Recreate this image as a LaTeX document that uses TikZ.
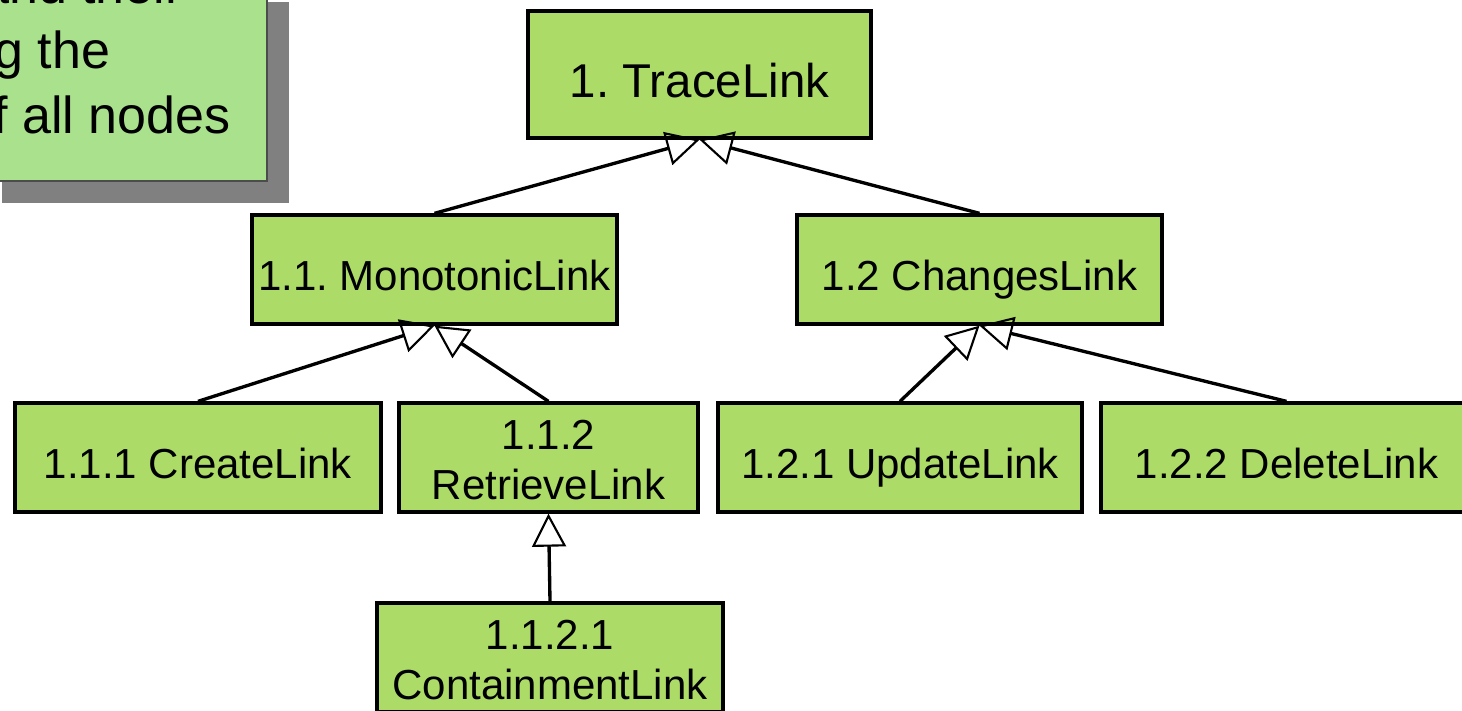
\documentclass[tikz,border=0pt]{standalone}
\usepackage{fontspec}
\setmainfont{Liberation Sans}
\usetikzlibrary{arrows.meta}
\definecolor{boxgreen}{HTML}{ADDB67}
\definecolor{notegreen}{HTML}{A9E18D}
\definecolor{shadowgray}{HTML}{808080}
\newcommand\topstrut{\rule{0pt}{1.19em}}
\newcommand\botstrut{\rule[-0.212em]{0pt}{0.212em}}
\newcommand\firstline{\rule{0pt}{1.0em}}
\frenchspacing

\begin{document}
\begin{tikzpicture}[x=0.02cm, y=-0.02cm,
  linkbox/.style={draw, line width=1.9pt, fill=boxgreen, minimum height=2.18cm,
    inner sep=0pt, align=center, font=\fontsize{23.9}{28.45}\selectfont,
    execute at begin node=\topstrut, execute at end node=\botstrut},
  notetext/.style={anchor=base west, inner sep=0pt, font=\fontsize{29.6}{37}\selectfont},
  gen/.style={line width=1.9pt, -{Triangle[open, length=0.66cm, width=0.68cm, line width=1.2pt]}}]
  \useasboundingbox (0,0) rectangle (1462,710);
  \clip (0,0) rectangle (1462,710);
  \fill[shadowgray] (2,2) rectangle (289,203);
  \filldraw[fill=notegreen, draw=black!70, line width=0.6pt] (-20,-20) rectangle (267,181);
  \node[notetext] (noteA) at (-20,4) {and their};
  \node[notetext] (noteB) at (-6,68) {g the};
  \node[notetext] (noteC) at (-7,133) {f all nodes};

  \node[linkbox, minimum width=6.86cm, minimum height=2.54cm,
    font=\fontsize{27}{32}\selectfont] (trace) at (699.5,74.5) {1. TraceLink};
  \node[linkbox, minimum width=7.3cm] (mono) at (434.5,269.5) {1.1. MonotonicLink};
  \node[linkbox, minimum width=7.3cm] (changes) at (979.5,269.5) {1.2 ChangesLink};
  \node[linkbox, minimum width=7.32cm] (create) at (198,457.5) {1.1.1 CreateLink};
  \node[linkbox, minimum width=5.98cm] (retrieve) at (548.5,457.5) {\firstline1.1.2\\RetrieveLink};
  \node[linkbox, minimum width=7.28cm] (update) at (900,457.5) {1.2.1 UpdateLink};
  \node[linkbox, minimum width=7.42cm] (delete) at (1286.5,457.5) {1.2.2 DeleteLink};
  \node[linkbox, minimum width=6.92cm] (contain) at (550,657.5) {\firstline1.1.2.1\\ContainmentLink};

  \draw[gen] (mono.north) -- (trace.south);
  \draw[gen] (changes.north) -- (trace.south);
  \draw[gen] (create.north) -- (mono.south);
  \draw[gen] (retrieve.north) -- (mono.south);
  \draw[gen] (update.north) -- (changes.south);
  \draw[gen] (delete.north) -- (changes.south);
  \draw[gen] (contain.north) -- (retrieve.south);
\end{tikzpicture}
\end{document}
